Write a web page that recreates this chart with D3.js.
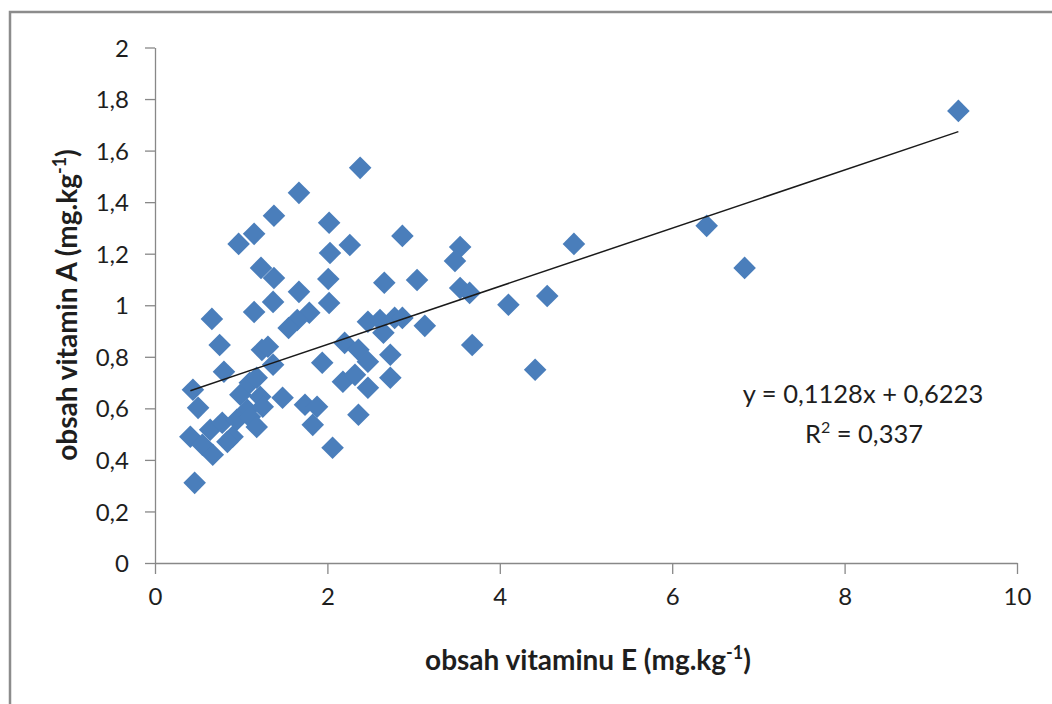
<!DOCTYPE html>
<html>
<head>
<meta charset="utf-8">
<script src="https://cdn.jsdelivr.net/npm/d3@7"></script>
<style>
  html, body { margin: 0; padding: 0; background: #fff; }
  svg { display: block; font-family: Lato, "Open Sans", sans-serif; }
</style>
</head>
<body>
<svg id="chart" width="1052" height="704"></svg>
<script>
// ---- data ----
const vitaminE = [9.32, 6.40, 6.84, 4.86, 4.55, 4.10, 4.41, 3.68, 3.54, 3.48,
  3.54, 3.65, 3.04, 3.13, 2.87, 2.66, 2.38, 2.26, 2.02, 2.03,
  2.01, 2.02, 1.67, 1.38, 1.15, 0.97, 1.23, 1.38, 1.67, 1.37,
  1.15, 1.79, 1.65, 1.55, 0.66, 0.75, 1.24, 1.31, 1.37, 1.94,
  0.80, 0.44, 0.50, 0.99, 1.10, 1.18, 1.22, 1.07, 1.25, 1.48,
  0.41, 0.55, 0.67, 0.64, 0.78, 0.90, 0.95, 1.10, 1.18, 1.74,
  1.88, 1.83, 2.06, 0.46, 2.36, 2.18, 2.32, 2.47, 2.73, 2.73,
  2.20, 2.36, 2.47, 2.47, 2.61, 2.78, 2.87, 2.65, 0.84];
const vitaminA = [1.754, 1.308, 1.145, 1.238, 1.036, 1.002, 0.750, 0.846, 1.226, 1.172,
  1.067, 1.048, 1.098, 0.920, 1.269, 1.087, 1.533, 1.234, 1.320, 1.203,
  1.102, 1.009, 1.436, 1.347, 1.277, 1.238, 1.145, 1.106, 1.052, 1.013,
  0.974, 0.971, 0.943, 0.912, 0.947, 0.846, 0.827, 0.839, 0.769, 0.777,
  0.742, 0.672, 0.602, 0.653, 0.699, 0.719, 0.645, 0.594, 0.606, 0.641,
  0.490, 0.459, 0.420, 0.517, 0.544, 0.490, 0.556, 0.567, 0.528, 0.614,
  0.606, 0.536, 0.447, 0.311, 0.575, 0.703, 0.730, 0.680, 0.719, 0.808,
  0.854, 0.827, 0.781, 0.936, 0.943, 0.951, 0.951, 0.893, 0.470];
const trendSlope = 0.1128;
const trendIntercept = 0.6223;
const xTicks = [0, 2, 4, 6, 8, 10];
const xTickLabels = ["0", "2", "4", "6", "8", "10"];
const yTicks = [0, 0.2, 0.4, 0.6, 0.8, 1, 1.2, 1.4, 1.6, 1.8, 2];
const yTickLabels = ["0", "0,2", "0,4", "0,6", "0,8", "1", "1,2", "1,4", "1,6", "1,8", "2"];
const xTitle = "obsah vitaminu E (mg.kg";
const yTitle = "obsah vitamin A (mg.kg";
const titleSup = "-1";
const titleEnd = ")";
const eqText = "y = 0,1128x + 0,6223";
const r2Value = " = 0,337";

// ---- layout ----
const svg = d3.select("#chart");
const x = d3.scaleLinear().domain([0, 10]).range([155, 1017]);
const y = d3.scaleLinear().domain([0, 2]).range([563, 47.5]);
const axisColor = "#888888";
const markerColor = "#4a7ebb";
const textColor = "#1e1e1e";

// outer frame
svg.append("rect")
  .attr("x", 10).attr("y", 12)
  .attr("width", 1100).attr("height", 760)
  .attr("fill", "none").attr("stroke", "#8c8c8c").attr("stroke-width", 2.5);

// axes
const xAxis = d3.axisBottom(x).tickValues(xTicks)
  .tickFormat((d, i) => xTickLabels[i]).tickSizeOuter(0).tickSizeInner(11).tickPadding(14);
const yAxis = d3.axisLeft(y).tickValues(yTicks)
  .tickFormat((d, i) => yTickLabels[i]).tickSizeOuter(0).tickSizeInner(10).tickPadding(16);

const gx = svg.append("g").attr("transform", `translate(0,${y(0)})`).call(xAxis);
const gy = svg.append("g").attr("transform", `translate(${x(0)},0)`).call(yAxis);
[gx, gy].forEach(g => {
  g.select(".domain").attr("stroke", axisColor).attr("stroke-width", 1.3);
  g.selectAll(".tick line").attr("stroke", axisColor).attr("stroke-width", 1.3);
  g.selectAll(".tick text").attr("fill", textColor).style("font-size", "24px")
    .style("font-family", "Lato, 'Open Sans', sans-serif");
});
gy.selectAll(".tick text").attr("dy", "0.36em");

// points
const pts = vitaminE.map((v, i) => ({ e: v, a: vitaminA[i] }));
const diamond = d3.symbol().type(d3.symbolSquare).size(255);
svg.append("g").selectAll("path").data(pts).join("path")
  .attr("d", diamond)
  .attr("transform", d => `translate(${x(d.e)},${y(d.a)}) rotate(45)`)
  .attr("fill", markerColor);

// trendline
const xMin = d3.min(vitaminE), xMax = d3.max(vitaminE);
svg.append("line")
  .attr("x1", x(xMin)).attr("y1", y(trendSlope * xMin + trendIntercept))
  .attr("x2", x(xMax)).attr("y2", y(trendSlope * xMax + trendIntercept))
  .attr("stroke", "#1a1a1a").attr("stroke-width", 1.5);

// equation text
svg.append("text").attr("x", 863).attr("y", 403)
  .attr("text-anchor", "middle").style("font-size", "25.5px").attr("fill", textColor)
  .text(eqText);
const r2 = svg.append("text").attr("x", 864).attr("y", 443)
  .attr("text-anchor", "middle").style("font-size", "25.5px").attr("fill", textColor);
r2.append("tspan").text("R");
r2.append("tspan").attr("dy", -10).style("font-size", "16px").text("2");
r2.append("tspan").attr("dy", 10).text(r2Value);

// axis titles
const xt = svg.append("text").attr("x", 588).attr("y", 670)
  .attr("text-anchor", "middle").style("font-size", "28px").style("font-weight", "bold").attr("fill", textColor);
xt.append("tspan").text(xTitle);
xt.append("tspan").attr("dy", -11).style("font-size", "18px").text(titleSup);
xt.append("tspan").attr("dy", 11).text(titleEnd);

const yt = svg.append("text").attr("transform", "translate(77,305) rotate(-90)")
  .attr("text-anchor", "middle").style("font-size", "28px").style("font-weight", "bold").attr("fill", textColor);
yt.append("tspan").text(yTitle);
yt.append("tspan").attr("dy", -11).style("font-size", "18px").text(titleSup);
yt.append("tspan").attr("dy", 11).text(titleEnd);
</script>
</body>
</html>
